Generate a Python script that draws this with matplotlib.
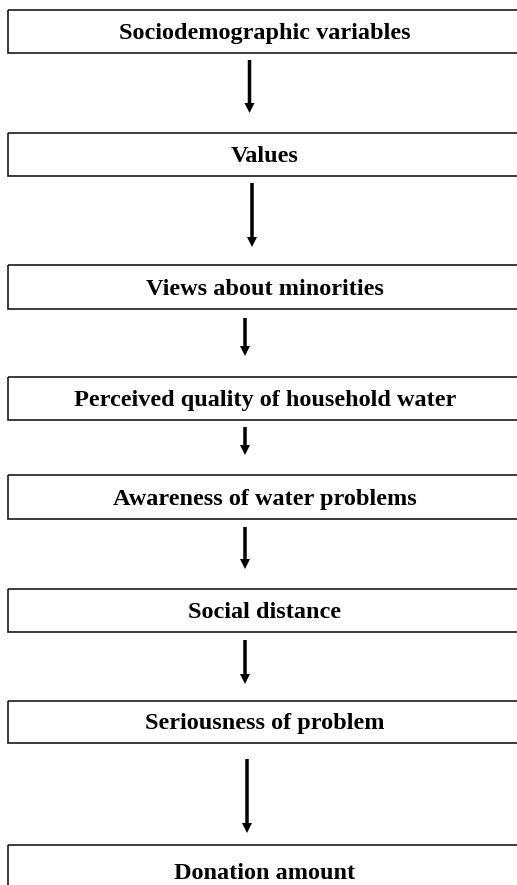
import matplotlib
matplotlib.use("Agg")
import matplotlib.pyplot as plt
from matplotlib.patches import Rectangle

# flowchart contents, top to bottom
labels = [
    "Sociodemographic variables",
    "Values",
    "Views about minorities",
    "Perceived quality of household water",
    "Awareness of water problems",
    "Social distance",
    "Seriousness of problem",
    "Donation amount",
]

# layout in pixels (y grows downward)
box_top = [10, 133, 265, 377, 475, 589, 701, 845]
box_bottom = [53, 176, 309, 420, 519, 632, 743, 905]
text_base = [39, 162, 295, 406, 505, 618, 729, 879]
arrow_x = [249.5, 252, 245, 245, 245, 245, 247]
arrow_start = [60, 183, 318, 427, 527, 640, 759]
arrow_end = [113, 247, 356, 455, 569, 684, 833]

W, H = 517, 885
fig = plt.figure(figsize=(W / 100, H / 100), dpi=100)
ax = fig.add_axes([0, 0, 1, 1])
ax.set_xlim(0, W)
ax.set_ylim(H, 0)
ax.axis("off")

left, right = 7.5, 522
for lab, top, bot, yb in zip(labels, box_top, box_bottom, text_base):
    ax.add_patch(Rectangle((left, top), right - left, bot - top,
                           fill=False, edgecolor="#1a1a1a", linewidth=1.2))
    ax.text(265, yb, lab, ha="center", va="baseline",
            fontsize=17.5, fontweight="bold", family="Liberation Serif")

for x, s, e in zip(arrow_x, arrow_start, arrow_end):
    ax.arrow(x, s, 0, e - s, width=3.5, head_width=10, head_length=10,
             length_includes_head=True, color="black", linewidth=0)

fig.savefig("out.png", dpi=100)
